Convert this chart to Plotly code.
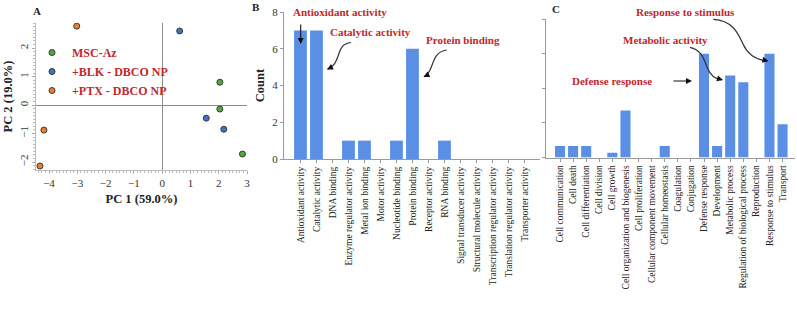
import plotly.graph_objects as go

W, H = 797, 313
SERIF = "Liberation Serif, Times New Roman, serif"
RED = "#C1272D"
BAR = "#5B8FE6"
AX = "#9A9A9A"

# ---------------- Data ----------------
# Panel A: PCA scores
msc_pc1 = [2.04, 2.04, 2.84]
msc_pc2 = [0.80, -0.14, -1.72]
blk_pc1 = [0.62, 1.56, 2.18]
blk_pc2 = [2.60, -0.46, -0.85]
ptx_pc1 = [-3.02, -4.18, -4.32]
ptx_pc2 = [2.77, -0.88, -2.14]

# Panel B: molecular function counts
mf_terms = ["Antioxidant activity", "Catalytic activity", "DNA binding",
            "Enzyme regulator activity", "Metal ion binding", "Motor activity",
            "Nucleotide binding", "Protein binding", "Receptor activity",
            "RNA binding", "Signal transducer activity",
            "Structural molecule activity", "Transcription regulator activity",
            "Translation regulator activity", "Transporter activity"]
mf_counts = [7, 7, 0, 1, 1, 0, 1, 6, 0, 1, 0, 0, 0, 0, 0]

# Panel C: biological process (axis unlabeled in original)
bp_terms = ["Cell communication", "Cell death", "Cell differentiation",
            "Cell division", "Cell growth", "Cell organization and biogenesis",
            "Cell proliferation", "Cellular component movement",
            "Cellular homeostasis", "Coagulation", "Conjugation",
            "Defense response", "Development", "Metabolic process",
            "Regulation of biological process", "Reproduction",
            "Response to stimulus", "Transport"]
bp_values = [0.33, 0.33, 0.33, 0, 0.14, 1.36, 0, 0, 0.33, 0, 0,
             3.0, 0.33, 2.37, 2.17, 0, 3.0, 0.96]


def px(x):
    return x / W


def py(y):
    return 1 - y / H


fig = go.Figure()

mk_line = dict(width=1, color="#3a3a3a")
fig.add_trace(go.Scatter(x=msc_pc1, y=msc_pc2, mode="markers", name="MSC-Az",
                         marker=dict(size=6, color="#55AA3C", line=mk_line),
                         xaxis="x", yaxis="y"))
fig.add_trace(go.Scatter(x=blk_pc1, y=blk_pc2, mode="markers", name="+BLK - DBCO NP",
                         marker=dict(size=6, color="#3A74C4", line=mk_line),
                         xaxis="x", yaxis="y"))
fig.add_trace(go.Scatter(x=ptx_pc1, y=ptx_pc2, mode="markers", name="+PTX - DBCO NP",
                         marker=dict(size=6, color="#EE7E2D", line=mk_line),
                         xaxis="x", yaxis="y"))

fig.add_trace(go.Bar(x=mf_terms, y=mf_counts, marker=dict(color=BAR, line=dict(width=0)),
                     width=0.8, showlegend=False, xaxis="x2", yaxis="y2"))
fig.add_trace(go.Bar(x=bp_terms, y=bp_values, marker=dict(color=BAR, line=dict(width=0)),
                     width=0.77, showlegend=False, xaxis="x3", yaxis="y3"))

tickfont = dict(family=SERIF, size=11, color="#333")
catfont = dict(family=SERIF, size=9.5, color="#222")
titlefont = dict(family=SERIF, size=12.5, color="#222", weight="bold")

fig.update_layout(
    width=W, height=H,
    margin=dict(l=0, r=0, t=0, b=0, pad=0, autoexpand=False),
    paper_bgcolor="white", plot_bgcolor="white",
    font=dict(family=SERIF),
    xaxis=dict(domain=[px(36), px(247)], range=[-4.46, 3.0], dtick=1,
               showgrid=False, zeroline=True, zerolinecolor="#8c8c8c", zerolinewidth=1,
               showline=True, linecolor="#bbbbbb", linewidth=1,
               ticks="outside", ticklen=3, tickcolor="#aaa",
               minor=dict(dtick=0.125, ticks="outside", ticklen=2, tickcolor="#bbb"),
               tickfont=tickfont, automargin=False,
               title=dict(text="PC 1 (59.0%)", font=titlefont, standoff=6),
               anchor="y"),
    yaxis=dict(domain=[py(170), py(23)], range=[-2.28, 2.88], dtick=1,
               showgrid=False, zeroline=True, zerolinecolor="#8c8c8c", zerolinewidth=1,
               showline=True, linecolor="#bbbbbb", linewidth=1,
               ticks="outside", ticklen=3, tickcolor="#aaa",
               minor=dict(dtick=0.125, ticks="outside", ticklen=2, tickcolor="#bbb"),
               tickangle=-90, tickfont=tickfont, automargin=False,
               title=dict(text="PC 2 (19.0%)", font=titlefont, standoff=2),
               anchor="x"),
    xaxis2=dict(domain=[px(284), px(540)], range=[-1.03, 14.97],
                showgrid=False, zeroline=False, showline=True, linecolor=AX, linewidth=1,
                ticks="outside", ticklen=3, tickcolor=AX, tickangle=-90,
                tickfont=catfont, automargin=False, anchor="y2"),
    yaxis2=dict(domain=[py(159), py(12)], range=[0, 8], dtick=2,
                showgrid=False, zeroline=False, showline=True, linecolor=AX, linewidth=1,
                ticks="outside", ticklen=3, tickcolor=AX, tickfont=tickfont,
                automargin=False, anchor="x2",
                title=dict(text="Count", font=titlefont, standoff=4)),
    xaxis3=dict(domain=[px(546), px(795)], range=[-1.07, 17.95],
                showgrid=False, zeroline=False, showline=True, linecolor=AX, linewidth=1,
                ticks="outside", ticklen=3, tickcolor=AX, tickangle=-90,
                tickfont=catfont, automargin=False, anchor="y3"),
    yaxis3=dict(domain=[py(157.5), py(19)], range=[0, 4], dtick=1,
                showgrid=False, zeroline=False, showline=True, linecolor=AX, linewidth=1,
                ticks="outside", ticklen=3, tickcolor=AX, showticklabels=False,
                automargin=False, anchor="x3"),
    legend=dict(x=px(32), y=py(38), xanchor="left", yanchor="top",
                bgcolor="rgba(0,0,0,0)", borderwidth=0, tracegroupgap=0,
                font=dict(family=SERIF, size=12, color=RED, weight="bold"),
                itemsizing="trace"),
)

ann = []
# Panel letters
for letter, (x, y) in {"A": (37, 11), "B": (256, 7), "C": (556, 9)}.items():
    ann.append(dict(text=letter, x=px(x), y=py(y), xref="paper", yref="paper",
                    xanchor="center", yanchor="middle", showarrow=False,
                    font=dict(family=SERIF, size=11, color="#222", weight="bold")))

labfont = dict(family=SERIF, size=11, color=RED, weight="bold")
labels = [("Antioxidant activity", 340, 12), ("Catalytic activity", 370, 32),
          ("Protein binding", 463, 40), ("Response to stimulus", 685, 12),
          ("Metabolic activity", 665, 40), ("Defense response", 612, 81)]
for t, x, y in labels:
    ann.append(dict(text=t, x=px(x), y=py(y), xref="paper", yref="paper",
                    xanchor="center", yanchor="middle", showarrow=False, font=labfont))

# Arrow heads (head position, tail offset in px)
heads = [((300.7, 44), (0, -21)),      # antioxidant straight
         ((692, 81), (-20, 0)),        # defense straight
         ((327, 69.5), (6, -3)),       # catalytic
         ((423.5, 77), (6, -3)),       # protein
         ((723, 80), (-7, -2)),        # metabolic
         ((768.5, 61), (-7, -1.5))]    # response
for (hx, hy), (ax, ay) in heads:
    ann.append(dict(text="", x=px(hx), y=py(hy), xref="paper", yref="paper",
                    ax=ax, ay=ay, showarrow=True, arrowhead=2, arrowsize=1.1,
                    arrowwidth=1.1, arrowcolor="#111", standoff=0))
fig.update_layout(annotations=ann)


def path(pts):
    s = "M{},{}".format(px(pts[0][0]), py(pts[0][1]))
    rest = pts[1:]
    for i in range(0, len(rest), 3):
        seg = rest[i:i + 3]
        s += " C" + " ".join("{},{}".format(px(a), py(b)) for a, b in seg)
    return s


curves = [
    [(351, 42.5), (339, 44), (340, 53), (336.5, 60), (334, 66), (331, 68), (327.5, 69.3)],
    [(446.7, 50), (434, 52), (434, 62), (430, 70), (428, 74), (426, 76), (424, 76.8)],
    [(690, 47.3), (702, 50), (704, 60), (707, 67), (710, 75), (714, 79), (722, 80)],
    [(713.3, 19.3), (732, 20), (738, 33), (743, 44), (748, 55), (756, 60), (767.5, 61)],
]
shapes = []
for c in curves:
    shapes.append(dict(type="path", xref="paper", yref="paper", path=path(c),
                       line=dict(color="#333", width=1.2)))
fig.update_layout(shapes=shapes)

fig.write_html("out.html", config={"displayModeBar": False},
               post_script="document.body.style.margin='0';")
